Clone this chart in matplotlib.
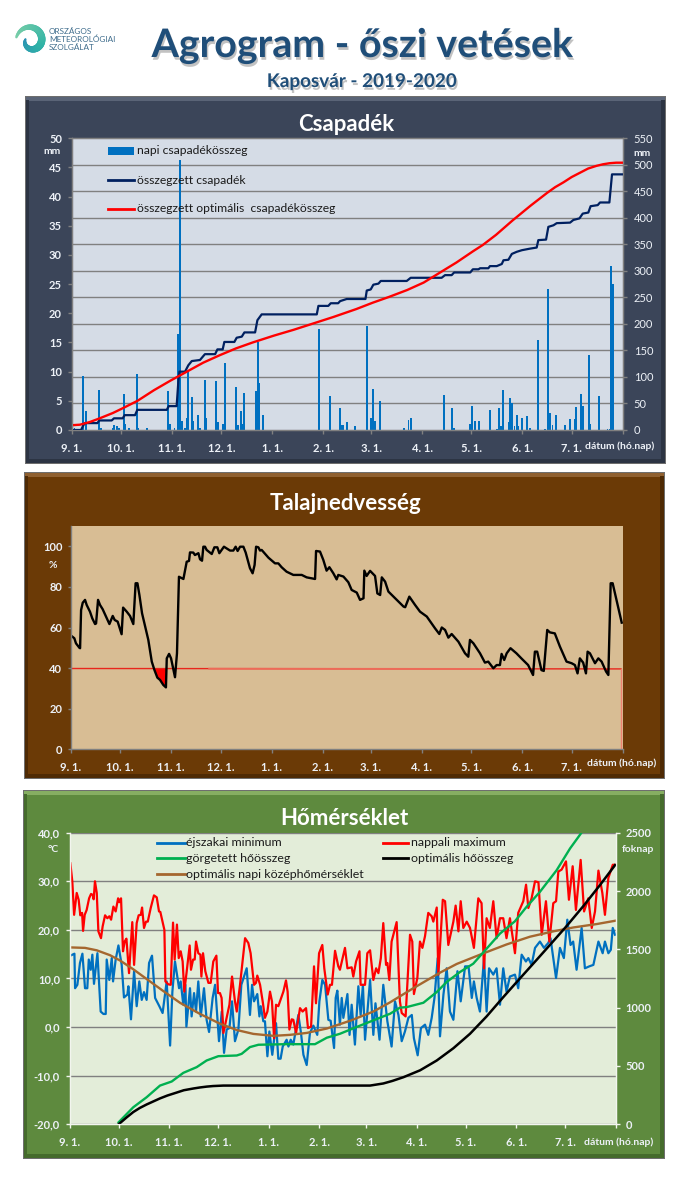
import numpy as np
import matplotlib
matplotlib.use('Agg')
import matplotlib.pyplot as plt
import matplotlib.patheffects as pe
from matplotlib.lines import Line2D
from matplotlib.patches import Rectangle
from matplotlib.ticker import MultipleLocator

plt.rcParams['font.family'] = ['Lato', 'DejaVu Sans']

W, H = 692, 1182

# month starts, days counted from 1 September
month_days = [0, 30, 61, 91, 122, 153, 182, 213, 243, 274, 304]
month_labels = ['9. 1.', '10. 1.', '11. 1.', '12. 1.', '1. 1.', '2. 1.', '3. 1.', '4. 1.', '5. 1.', '6. 1.', '7. 1.']
last_day = 335

# daily precipitation, mm
rain_days = [0.5, 1.6, 6.9, 8.7, 16.6, 17.8, 24.7, 25.9, 27.6, 28.8, 31.8, 32.8, 34.9, 39.7, 40.7, 45.8,
             58.6, 59.6, 62.6, 64.7, 65.9, 66.9, 68.7, 69.9, 70.7, 73.2, 74, 76.8, 78.2, 81, 81.9, 87.8,
             88.8, 92, 93.2, 99.9, 101.1, 103, 103.8, 104.8, 112.1, 113.3, 114.1, 116.3, 150.4, 157.1,
             163.2, 164.2, 165.2, 167.2, 172.3, 179.4, 182, 183.2, 184.4, 187.5, 202, 204.7, 206.1, 226.4,
             231.2, 232.5, 242.3, 243.5, 245.3, 247.7, 254.4, 258.4, 259.8, 261, 262.2, 265.5, 266.5,
             267.6, 269.2, 270.6, 271.6, 273.8, 276.9, 278.7, 283.5, 287.8, 289.6, 290.8, 292.4, 294.5,
             300, 303, 305.7, 306.6, 309.7, 310.7, 314.4, 315.5, 320.6, 325.8, 326.9, 328, 329]
rain_mm = [0.3, 0.3, 9.3, 3.2, 6.9, 0.3, 0.3, 0.8, 0.6, 0.3, 6.2, 1, 0.3, 9.6, 0.3, 0.3,
           6.7, 1, 0.3, 16.4, 46.2, 1.5, 0.3, 2.1, 10, 5.7, 1.5, 2.6, 0.4, 8.5, 2, 8.4,
           1.3, 1, 11.4, 7.4, 0.8, 3.2, 1, 6.4, 6.7, 15, 8, 2.5, 17.3, 5.8,
           3.7, 0.9, 0.9, 1.3, 0.7, 17.9, 2, 7, 1.5, 4.9, 0.3, 1.7, 2, 6,
           3.7, 0.3, 1.1, 4.1, 1.5, 1.5, 3.5, 0.2, 3.7, 0.6, 6.8, 1.3, 5.4,
           4.7, 0.6, 2.5, 0.6, 2, 2.4, 0.3, 15.5, 0.1, 24.1, 2.9, 0.9, 2.5,
           0.9, 1.9, 1.9, 3.9, 6.2, 4.1, 12.8, 1.1, 5.8, 0.1, 0.1, 28.1, 25]

# summed precipitation, mm
sum_days = [0, 5.7, 7.1, 8.1, 15.6, 16.8, 24.3, 25.7, 31, 32.2, 38.5, 39.9, 57.8, 59, 63.8, 64.9, 65.5, 68.9,
            70.9, 73, 78, 81, 87.2, 88.6, 91.8, 92.8, 98.9, 100.3, 103.4, 105, 111.5, 112.9, 115.5, 149, 150,
            156, 157.5, 162, 163.2, 167.2, 178.6, 179.4, 181.8, 183.4, 186.5, 187.9, 203.7, 206.1, 224.9, 227,
            231, 232.5, 242.3, 243.9, 247.3, 248.3, 253.3, 254.3, 258.4, 261.5, 262.5, 265.5, 267.6, 270.6,
            273.7, 278.7, 282.7, 283.7, 288.4, 289.8, 292.9, 294.9, 303, 305, 308.7, 310.7, 314.1, 315.5,
            319.8, 321.2, 326.9, 328.5, 335]
sum_mm = [0, 0, 9, 13, 13, 18, 18, 22, 22, 28, 28, 38, 38, 45, 45, 94, 110, 110,
          122, 130, 132, 143, 143, 152, 152, 166, 166, 174, 176, 184, 184, 207, 218, 218, 234,
          234, 239, 239, 243, 247, 247, 263, 265, 274, 276, 281, 281, 287, 287, 292,
          292, 297, 297, 303, 303, 305, 305, 309, 309, 313, 320, 321, 332, 336,
          339, 342, 344, 358, 359, 383, 386, 390, 391, 396, 399, 408, 410, 422,
          424, 429, 429, 482, 482]
opt_days = [0, 5, 11, 17, 25, 31, 40, 50, 60, 70, 80, 90, 100, 110, 123, 135, 147, 159,
            173, 183, 193, 204, 214, 224, 234, 244, 250, 258, 268, 279, 289, 294, 299, 304, 309,
            314, 319, 323, 327, 331, 335]
opt_mm = [9, 10, 15, 22, 32, 41, 55, 75, 93, 110, 127, 141, 154, 165, 178, 189, 201, 213,
          228, 240, 251, 264, 278, 297, 316, 337, 349, 368, 395, 423, 447, 458, 467, 477, 485,
          493, 498, 501, 503, 504, 504]

# soil moisture, %
soil_days = [0.2, 2.2, 3.2, 5.3, 5.7, 6.3, 7.3, 8.7, 9.7, 11.7, 13.1, 14.8, 15.4, 16.6, 17.8, 19.4, 21, 23.5, 25.5,
             26.7, 28.5, 30.9, 31.8, 34, 36, 38, 39.4, 40.5, 41.7, 43.3, 47.1, 49.2, 50.8, 52.6, 54.2, 56.2, 57.8,
             58.3, 59.7, 60.9, 63.3, 64.5, 65.7, 68.4, 70.4, 71.8, 72.4, 74.4, 75.4, 77.5, 78.5, 79.7, 80.5, 81.5,
             82.5, 85.6, 87.2, 89, 90.2, 93, 96.7, 98.7, 100.1, 101.3, 102.8, 104.8, 106.2, 108.8, 110.4, 111.6,
             112.5, 113.9, 114.9, 115.9, 120, 124, 126, 128, 131, 135.1, 140.2, 143.2, 148.3, 148.9, 151.3, 153.3,
             155.3, 157, 159.4, 161.4, 162.4, 165.5, 168.5, 170.5, 173.6, 175.6, 177.7, 178.2, 179.6, 181.7, 184.7,
             186.1, 187.8, 188.8, 190.8, 192.8, 196.9, 202, 203, 205.5, 209, 212, 216.1, 221.1, 223.7, 225.2, 227.2,
             229.2, 231.2, 235.3, 239.3, 241.3, 242.3, 244.4, 248.4, 251.4, 253.4, 256.5, 258.5, 260.5, 261.5, 263.1,
             264.6, 266.9, 270.5, 273.5, 277.6, 280.6, 281.7, 283.1, 285.7, 287.1, 289.2, 290.8, 293.8, 296.9, 300.9,
             304, 306, 307.6, 309, 311, 312.7, 313.7, 315.1, 318.2, 320.2, 322.2, 324.9, 326.3, 327.7, 328.9, 334.4]
soil_pct = [56, 54.7, 52.2, 50, 49.8, 68.6, 72.2, 73.6, 71.1, 67.8, 64.5, 61.7, 62, 73.6, 71.1, 69, 66.2, 61.7, 65.7,
            63.7, 62.9, 56.7, 69.8, 67.8, 65.7, 61.7, 81.8, 81.8, 76, 67, 53.9, 43.2, 39.1, 35.3, 34.2, 31.7, 30.5,
            44.8, 47, 44.8, 35.5, 47.3, 85, 83.9, 92.4, 92.8, 97, 96.9, 95.7, 96.6, 93.6, 92.9, 99.8, 99.8,
            98.2, 96.2, 99.5, 99.5, 96.6, 99.8, 97.9, 97.9, 99.8, 97.7, 99.8, 99.8, 96.9, 89.2, 86.7, 90.8,
            99.8, 99.5, 97.9, 98.2, 94.4, 91.6, 91.6, 89.7, 87.5, 85.9, 85.9, 84.7, 83.9, 97.7, 97.4, 93.3,
            88, 89.7, 86.7, 83.7, 85.9, 85.1, 82.3, 78.5, 77.2, 73.6, 74.4, 88, 85.4, 87.9, 85.4,
            76.8, 76, 84.7, 82.6, 77.7, 74.4, 70.3, 70, 75.2, 71.1, 67.8, 65.4, 59.6, 56.8, 60, 58.8,
            55, 56.8, 53, 47.3, 45.6, 53.9, 52.2, 47.3, 42.7, 43.2, 39.9, 41.5, 41.5, 47, 44,
            47.3, 49.8, 47.3, 44.8, 41.5, 36.6, 48.1, 48.1, 39, 38.6, 58.8, 57.6, 57.1, 50.6, 43.2,
            42.4, 41.5, 37.4, 44.8, 42.7, 37.4, 48.1, 47.3, 42.4, 44.8, 43.2, 38.3, 36.6, 81.8, 81.8, 62.4]
limit_days = [0, 334, 334]
limit_pct = [39.8, 39.6, 0]
limit_mid_days = [84, 252]
limit_mid_pct = [39.7, 39.6]

# night minimum, C
tmin_days = [0.4, 2.9, 3.3, 4.7, 6.3, 7.8, 9.4, 10.8, 11.7, 12.9, 13.9, 14.9, 17, 19, 20.7, 22.1, 22.7, 24.3, 25.8, 26.6,
             28.2, 29.9, 31.9, 33.3, 35.4, 36, 37.6, 39.5, 41.1, 42.7, 44.2, 45.6, 47.2, 48.7, 50.5, 52.4, 55, 57, 59.5,
             61.6, 63, 64.6, 67.1, 68.1, 69.7, 71, 71.6, 73.8, 74.8, 76.3, 77.5, 78.9, 80.4, 82.4, 84, 85.5, 87.7, 89.2,
             91.6, 93.3, 94.7, 96.3, 98, 99.6, 101.4, 103.5, 105.3, 108.6, 110.6, 111.9, 113.1, 115.1, 116.4, 117.2,
             118.8, 119.8, 121.3, 122.5, 124.3, 126.6, 128, 129.4, 130.7, 133.1, 134.2, 135.6, 137.2, 140.3, 141.9,
             143.4, 145.4, 147.4, 149.5, 151.9, 153.2, 155, 156.7, 158.7, 160.1, 162.2, 163.2, 164.2, 165.8, 166.9,
             167.9, 170.4, 171.7, 173, 175, 177.1, 178.5, 179.9, 181.2, 184.3, 186.3, 187.6, 190.1, 192.4, 194.9,
             197.5, 199.6, 201.7, 203.7, 205.7, 207.8, 209.9, 211.2, 213.5, 215.5, 218, 220, 222.1, 223.8, 225.8,
             227.2, 229.3, 231.3, 233.3, 235.4, 237.9, 239.9, 242.6, 244.7, 246.7, 248, 249.7, 251.7, 254.2, 255.8,
             257.3, 259.9, 261.9, 264, 266, 268, 270.1, 273.2, 275.2, 277.3, 279.9, 281.4, 283.4, 285.5, 288.5, 291,
             293.6, 295, 298.4, 300.8, 303.2, 305.3, 307.3, 308.9, 311, 314.1, 316.1, 318.8, 321.3, 324.4, 327, 328.4,
             330.5, 332, 333.2, 334.6]
tmin_c = [14.7, 15.1, 8, 8.7, 13.2, 15.1, 8, 8, 13.9, 11.8, 14.9, 8.9, 15.2, 3.2, 2.7, 2.7, 13.9, 9.7, 14.2, 9.4,
          13.9, 16.8, 12.8, 6.1, 6.7, 8.4, 1.6, 11.5, 4.3, 9.4, 5.6, 7.2, 5.6, 13.2, 14.7, 6, 4.3, 2.9, 9.4,
          -3.8, 7.3, 13.5, 8, 9.4, 4.6, 8.7, 0.1, 8, 2.2, 7, 3.2, 9.4, 2.2, 8, 1.5, -1, 6, 8.7,
          -2.9, 3.2, -5.3, -0.5, -0.2, 5.3, -2.9, -0.5, 8.7, 12.1, 2.5, 8.7, 5.3, 6.8, 2.2, 4.3,
          1.2, 1.2, -6, -0.9, -5.7, 0.8, -6.5, -6.5, -4, -2.6, -4, -2.6, -3.6, 2.5, -1.2,
          -5.7, -7.8, -1.2, 0.3, -1.6, 5.3, 9.7, 8.7, 1.5, 1.3, -4.3, 6, 7.5, 0.5, 6,
          1.9, 6.8, -1.6, 4.6, -3.6, 8.4, 2.5, 8.7, -2.6, 9.7, -1.6, 4.9, -2.6, 8.7, 1.2,
          -4, 5.3, 2.5, -2.9, -0.9, 1.9, 2.5, -2.3, -5.8, -0.2, 0.5, -1.6, 1.9, 6, 14.2,
          -1.9, 6.7, 12.1, 3.2, 1.5, 11.5, 5.3, 12.5, 12.5, 6, 9.4, 6, 3.2, 14.2, 3.2,
          12.1, 10.8, 12.1, 4.6, 12.1, 7.3, 10.4, 10.8, 8, 14.9, 13.5, 14.2, 12.8, 16.3, 17.6, 16.3,
          17.3, 18.3, 10.1, 16.3, 14.2, 22.1, 16.9, 17.6, 11.8, 20.4, 12.1, 12.5, 12.8, 17.6, 15.2, 17.6,
          15.2, 15.9, 20.4, 19]

# day maximum, C
tmax_days = [0.4, 1.6, 2.7, 4.3, 5.5, 6.5, 7.6, 8.2, 9.2, 10.4, 11.9, 13.1, 14.1, 14.7, 15.5, 16.6, 17.6, 19.2, 20.2, 21.7,
             23.1, 24.3, 25.4, 26.8, 28.2, 29.7, 30.5, 31.5, 32.7, 33.7, 34.8, 36.4, 38.4, 39.5, 41.1, 42.3, 43.6, 44.4,
             45.6, 46.8, 47.9, 49.7, 51.7, 53.4, 54.8, 55.6, 58.1, 58.7, 60.5, 62, 63.4, 64.4, 65.8, 66.9, 68.1, 69.3,
             70.3, 71.8, 73.6, 74.4, 75.7, 76.7, 77.5, 78.9, 80.2, 80.8, 81.8, 83.2, 85.1, 86.5, 88.1, 90, 91, 92.2, 93.2,
             94.3, 96.3, 98, 99.6, 101.4, 102.5, 104.5, 107.6, 109.6, 111, 113.1, 114.3, 115.1, 116.8, 118.4, 119.8,
             121.3, 122.9, 124.1, 125.4, 126.6, 128, 131.1, 132.7, 133.7, 134.8, 136.2, 137.2, 138.9, 141.3, 142.9, 145,
             146.2, 148.1, 149.9, 151.1, 153, 155, 156.2, 158.3, 159.7, 160.9, 162.8, 164.8, 165.8, 168.9, 170.4, 173,
             174, 175.7, 177.8, 178.5, 181.2, 182.6, 184.3, 186.3, 188, 189.4, 190.9, 192.4, 194.1, 194.9, 196.1, 197.5,
             200.6, 202.6, 203.7, 206.1, 207.4, 208.8, 210.2, 211.2, 213.3, 214.9, 216.4, 218, 220, 222.1, 223.1, 225.2,
             226.2, 228.9, 230.3, 232.3, 235.4, 236.8, 238.5, 239.9, 241.5, 243.6, 245.6, 248, 250.7, 252.7, 254.2,
             255.8, 257.8, 259.9, 261.9, 264, 266, 268, 270.1, 273.2, 275.2, 278.3, 280, 281.4, 283.4, 285.5, 287.6,
             289.6, 292.2, 294.3, 296.7, 298.4, 299.8, 301.8, 304.5, 306.3, 308.6, 310.6, 313.5, 315.6, 318.2, 320.3,
             322.3, 324.4, 326.8, 328.4, 330.5, 333.2, 334.6]
tmax_c = [33.7, 30, 23.1, 27.6, 26.2, 23, 23.5, 19.8, 23.1, 24.1, 26.5, 27.4, 27.2, 26.3, 30, 27.6, 19.7, 18.3, 20.7, 23,
          22.4, 22.8, 22.1, 24.8, 23.8, 26.5, 25.7, 26.5, 15.6, 17.6, 18.2, 11.1, 21.6, 12.8, 21.4, 23, 23.1, 24.6,
          20.4, 21.7, 21.7, 24.5, 27.1, 26.7, 23.8, 23.7, 20, 9.4, 8.8, 8.7, 21.5, 13.9, 21.1, 14.2, 15.6, 13.5,
          7.3, 11.5, 16.8, 11.8, 13.9, 13.9, 17.6, 15.2, 14.9, 10.4, 15.2, 11.5, 9.1, 9.1, 13.5, 14.7, 7, 7, 6,
          -1.2, 1.9, 4.6, 10.4, 5.3, 3.2, 8.7, 18.3, 17.3, 15.2, 8.7, 9.1, 10.6, 8.7, 5.3, 1.9,
          3.2, 7.3, 5.3, -2.3, 4.6, 4.3, 7.3, 9.6, 7.3, -0.5, 1.6, 1.5, -1.2, 3.9, 3.2, 3.9,
          -0.2, 0.1, 12.5, 4.9, 15.2, 16.9, 12.1, 6.7, 8.7, 8.7, 15.7, 12.5, 11.8, 16.3, 12.1, 12.3,
          10.4, 13.5, 15.6, 8.7, 8.7, 15.2, 15.8, 9.7, 12.1, 11.1, 14.2, 21.4, 12.8, 13.2, 9.7, 17.6,
          21.6, 5.3, 2.9, 2.2, 10.1, 19, 17.6, 6.8, 10.1, 17.6, 16.3, 18.7, 23.5, 22.8, 21.7, 24.6,
          10.8, 26.2, 25.9, 16.9, 21.7, 25, 19.7, 25.9, 20.4, 21.7, 20.4, 16.3, 26.5, 25.5, 12.1,
          22.4, 20.4, 25.9, 18.3, 22.4, 22.4, 18.3, 22.4, 15.2, 23.5, 25.9, 29.3, 24.5, 26.5, 30, 29.8,
          19, 25.9, 17.6, 25.5, 25.9, 32, 32.4, 34.1, 26.2, 33.1, 24.1, 34.4, 23.8, 26.5, 20.4,
          23.8, 32.2, 27.6, 23.1, 30.7, 33.4, 33.4]

# optimal daily mean, C
tmean_days = [0, 9.4, 16.6, 24.7, 30.9, 39, 47.2, 57.5, 67.7, 80, 92.2, 102.5, 112.7, 125, 135, 145.4, 157.7, 172,
              186.3, 196.6, 210.8, 227.2, 237.5, 254, 268, 282.4, 296.7, 309, 323.3, 335]
tmean_c = [16.4, 16.3, 15.8, 14.8, 13.7, 11.9, 9.9, 7.4, 5, 2.7, 0.7, -0.6, -1.4, -1.8, -1.6, -1.2, -0.3, 1.3,
           3.2, 5.1, 8, 11.2, 13, 15.2, 17, 18.6, 19.7, 20.5, 21.2, 21.9]

# rolled and optimal heat sums, degree days
heat_days = [30, 39, 47.2, 55.4, 62.6, 69.7, 77.9, 84, 91.2, 102.5, 105.5, 110.6, 115.8, 133, 150.5, 157.7, 165.8, 175.8,
             186.3, 196.6, 202.6, 206.8, 217, 225.2, 231.3, 239.5, 247.6, 255.8, 264, 273.2, 280.3, 288.5, 298.8, 307, 314]
heat_sum = [17, 146, 232, 332, 367, 441, 490, 547, 584, 590, 604, 662, 682, 687, 687, 742, 776, 833,
            891, 948, 1000, 1005, 1042, 1134, 1220, 1306, 1377, 1506, 1635, 1741, 1864, 1993, 2179, 2365, 2500]
heatopt_days = [30, 35, 39, 43, 47.2, 55.4, 60, 65.6, 70, 75.9, 80, 84, 88, 94.3, 184.3, 192.4, 198, 204.8, 215, 225.2,
                235.4, 245.6, 255.8, 266, 276.2, 286.5, 296.7, 304.9, 315.1, 325.3, 334.6]
heatopt_sum = [0, 60, 105, 140, 170, 222, 247, 272, 292, 307, 316, 323, 328, 332, 332, 350, 372, 404, 463, 547,
               652, 776, 925, 1090, 1250, 1410, 1570, 1700, 1870, 2050, 2222]

GRID = '#808080'
PALE = '#EDF1F7'


def px_axes(left, top, right, bottom):
    return fig.add_axes([left / W, 1 - bottom / H, (right - left) / W, (bottom - top) / H])


def px_text(x, y, s, **kw):
    kw.setdefault('ha', 'center')
    kw.setdefault('va', 'center')
    return fig.text(x / W, 1 - y / H, s, **kw)


def px_line(x0, x1, y, color, lw=2.0):
    fig.add_artist(Line2D([x0 / W, x1 / W], [1 - y / H, 1 - y / H], color=color, lw=lw, zorder=20))


def px_rect(left, top, right, bottom, color, zorder=0):
    fig.add_artist(Rectangle((left / W, 1 - bottom / H), (right - left) / W, (bottom - top) / H,
                             transform=fig.transFigure, facecolor=color, edgecolor='none', zorder=zorder))


def panel(left, top, right, bottom, face, light, dark):
    # bevelled frame behind every chart
    px_rect(left - 1, top - 1, right + 1, bottom + 1, '#6E6E6E', -5)
    px_rect(left, top, right, bottom, face, -4)
    px_rect(left, top, right, top + 4, light, -3)
    px_rect(left, bottom - 4, right, bottom, dark, -3)
    px_rect(left, top + 3, left + 3, bottom - 3, dark, -3)
    px_rect(right - 4, top + 3, right, bottom - 3, dark, -3)


def style_axes(ax, face, spine):
    ax.set_facecolor(face)
    ax.set_xlim(0, last_day)
    ax.set_xticks(month_days + [last_day])
    ax.set_xticklabels(month_labels + [''])
    ax.tick_params(axis='x', colors=spine, labelcolor=PALE, labelsize=8, length=3, width=1, pad=6)
    ax.tick_params(axis='y', colors=spine, labelcolor=PALE, labelsize=8, length=3, width=1, pad=4)
    for label in ax.get_xticklabels() + ax.get_yticklabels():
        label.set_fontweight('bold')
    for side in ['left', 'bottom', 'right', 'top']:
        ax.spines[side].set_color(spine)
        ax.spines[side].set_linewidth(1)


fig = plt.figure(figsize=(W / 100, H / 100), dpi=100, facecolor='white')

# header
shadow = [pe.SimplePatchShadow(offset=(1, -2), shadow_rgbFace='#9A9A9A', alpha=0.6), pe.Normal()]
px_text(362, 57, 'Agrogram - őszi vetések', va='baseline', fontsize=28.3, fontweight='bold', color='#1F4E79',
        path_effects=shadow)
px_text(362, 87, 'Kaposvár - 2019-2020', va='baseline', fontsize=13.6, fontweight='bold', color='#1F4E79',
        path_effects=shadow)

# logo swirl, just decoration
logo = px_axes(13, 22, 49, 60)
logo.axis('off')
logo.set_xlim(-1.1, 1.1)
logo.set_ylim(-1.15, 1.1)
turn = np.linspace(0.3, 6.6, 60)
radius = 0.32 + 0.09 * turn
colors = plt.cm.colors.LinearSegmentedColormap.from_list('omsz', ['#2A8FB5', '#2FB3A6', '#7CCFA8'])
for i in range(len(turn) - 1):
    logo.plot(radius[i:i + 2] * np.cos(turn[i:i + 2] + 2.6), radius[i:i + 2] * np.sin(turn[i:i + 2] + 2.6),
              color=colors(i / 60), lw=1.4 + 4 * np.sin(np.pi * i / 60), solid_capstyle='round')
for y, s in zip([31, 39.5, 47], ['ORSZÁGOS', 'METEOROLÓGIAI', 'SZOLGÁLAT']):
    px_text(49, y, s, ha='left', fontsize=5.9, color='#3E6C8C')

# precipitation chart
panel(26, 97, 665, 463, '#3B4559', '#5A6477', '#2C3443')
px_text(346, 131, 'Csapadék', va='baseline', fontsize=16, fontweight='bold', color='white')
ax1 = px_axes(71.7, 138.3, 622.7, 430)
style_axes(ax1, '#D5DCE6', GRID)
ax1.set_ylim(0, 50)
ax1.yaxis.set_major_locator(MultipleLocator(5))
ax1.yaxis.set_minor_locator(MultipleLocator(50 / 11))
ax1.tick_params(axis='y', which='minor', length=0)
ax1.tick_params(axis='y', which='major', right=False)
ax1.grid(axis='y', which='minor', color=GRID, lw=1)
ax1.set_axisbelow(True)
ax1.bar(rain_days, rain_mm, width=1.0, color='#0070C0', linewidth=0)
ax1r = ax1.twinx()
ax1r.set_ylim(0, 550)
ax1r.yaxis.set_major_locator(MultipleLocator(50))
ax1r.tick_params(axis='y', colors=GRID, labelcolor=PALE, labelsize=8, length=3, width=1, pad=5)
ax1r.patch.set_visible(False)
for side in ['left', 'bottom', 'right', 'top']:
    ax1r.spines[side].set_color(GRID)
ax1r.plot(sum_days, sum_mm, color='#002060', lw=1.6)
ax1r.plot(opt_days, opt_mm, color='#FF0000', lw=1.7)
px_text(52.5, 151, 'mm', fontsize=7.5, fontweight='bold', color=PALE)
px_text(642, 154, 'mm', fontsize=7.5, fontweight='bold', color=PALE)
px_text(620, 446, 'dátum (hó.nap)', fontsize=7.5, fontweight='bold', color=PALE)
px_rect(108, 147, 134, 155, '#0070C0', 20)
px_line(108, 134, 180, '#002060')
px_line(108, 134, 209, '#FF0000')
for y, s in zip([151, 180, 209], ['napi csapadékösszeg', 'összegzett csapadék', 'összegzett optimális  csapadékösszeg']):
    px_text(137, y, s, ha='left', fontsize=8.7, color='#1A1A1A', zorder=21)

# soil moisture chart
panel(25, 473, 664, 778, '#6B3A06', '#8F6030', '#4E2A04')
px_text(346, 510, 'Talajnedvesség', va='baseline', fontsize=16, fontweight='bold', color='white')
ax2 = px_axes(70.7, 526, 622.7, 749.3)
style_axes(ax2, '#D8BD94', GRID)
ax2.set_ylim(0, 110)
ax2.set_yticks(range(0, 101, 20))
ax2.spines['top'].set_visible(False)
ax2.spines['right'].set_visible(False)
ax2.tick_params(axis='y', length=2)
limit_on_soil = np.interp(soil_days, limit_days[:2], limit_pct[:2])
ax2.fill_between(soil_days, soil_pct, limit_on_soil, where=np.array(soil_pct) < limit_on_soil,
                 interpolate=True, color='#FF0000', linewidth=0)
ax2.plot(limit_days[:2], limit_pct[:2], color='#E8261C', lw=1.0)
ax2.plot(limit_mid_days, limit_mid_pct, color='#EE6A58', lw=1.3)
ax2.plot(limit_days[1:], limit_pct[1:], color='#EE8070', lw=1.0)
ax2.plot(soil_days, soil_pct, color='black', lw=1.7)
px_text(53, 565, '%', fontsize=7.5, fontweight='bold', color=PALE)
px_text(622, 763, 'dátum (hó.nap)', fontsize=7.5, fontweight='bold', color=PALE)

# temperature chart
panel(24, 791, 664, 1158, '#5E8A3E', '#86AE62', '#456B2C')
px_text(344, 825, 'Hőmérséklet', va='baseline', fontsize=16, fontweight='bold', color='white')
ax3 = px_axes(69.7, 832.7, 615.7, 1124.3)
style_axes(ax3, '#E3EDD9', '#F2F5EE')
ax3.set_ylim(-20, 40)
ax3.set_yticks(range(-20, 41, 10))
ax3.set_yticklabels(['%d,0' % v for v in range(-20, 41, 10)], fontweight='bold')
ax3.grid(axis='y', color=GRID, lw=1)
ax3.set_axisbelow(True)
ax3.spines['top'].set_visible(False)
ax3.plot(tmin_days, tmin_c, color='#0070C0', lw=1.6)
ax3.plot(tmax_days, tmax_c, color='#FF0000', lw=1.6)
ax3.plot(tmean_days, tmean_c, color='#A5672F', lw=1.7)
ax3r = ax3.twinx()
ax3r.set_ylim(0, 2500)
ax3r.yaxis.set_major_locator(MultipleLocator(500))
ax3r.tick_params(axis='y', colors='#F2F5EE', labelcolor=PALE, labelsize=8, length=3, width=1, pad=4)
for label in ax3r.get_yticklabels():
    label.set_fontweight('bold')
ax3r.patch.set_visible(False)
ax3r.spines['top'].set_visible(False)
for side in ['left', 'bottom', 'right']:
    ax3r.spines[side].set_color('#F2F5EE')
ax3r.plot(heat_days, heat_sum, color='#00B050', lw=1.7)
ax3r.plot(heatopt_days, heatopt_sum, color='black', lw=1.8)
px_text(53, 850, '°C', fontsize=7.5, fontweight='bold', color=PALE)
px_text(638, 849, 'foknap', fontsize=7.5, fontweight='bold', color=PALE)
px_text(619, 1142, 'dátum (hó.nap)', fontsize=7.5, fontweight='bold', color=PALE)
px_line(157, 185, 843, '#0070C0')
px_line(157, 185, 858, '#00B050')
px_line(157, 185, 874, '#A5672F')
px_line(383, 408, 843, '#FF0000')
px_line(383, 408, 858, 'black')
for x, y, s in [(186, 843, 'éjszakai minimum'), (186, 858, 'görgetett hőösszeg'),
                (186, 874, 'optimális napi középhőmérséklet'), (411, 843, 'nappali maximum'),
                (411, 858, 'optimális hőösszeg')]:
    px_text(x, y, s, ha='left', fontsize=8.9, color='#1A1A1A', zorder=21)

fig.savefig('out.png', dpi=100)
